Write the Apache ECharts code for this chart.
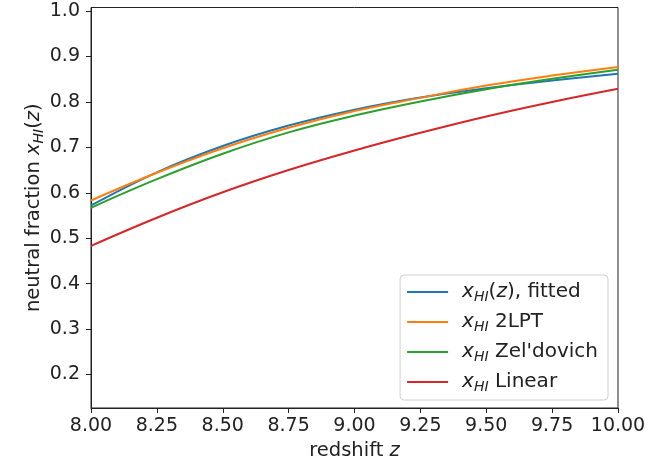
<!DOCTYPE html>
<html>
<head>
<meta charset="utf-8">
<script src="https://cdn.jsdelivr.net/npm/echarts@6/dist/echarts.min.js"></script>
<style>html,body{margin:0;padding:0;background:#fff}#c{width:668px;height:466px}</style>
</head>
<body>
<div id="c"></div>
<script>
var redshift = [8.0, 8.25, 8.5, 8.75, 9.0, 9.25, 9.5, 9.75, 10.0];
var fitted   = [0.572, 0.645, 0.703, 0.748, 0.783, 0.810, 0.830, 0.847, 0.862];
var lpt2     = [0.583, 0.644, 0.698, 0.743, 0.780, 0.809, 0.836, 0.858, 0.877];
var zeldo    = [0.567, 0.630, 0.686, 0.733, 0.770, 0.801, 0.828, 0.851, 0.871];
var linear   = [0.483, 0.545, 0.601, 0.650, 0.693, 0.732, 0.768, 0.800, 0.829];
var xTicks = [8.0, 8.25, 8.5, 8.75, 9.0, 9.25, 9.5, 9.75, 10.0];
var yTicks = [0.2, 0.3, 0.4, 0.5, 0.6, 0.7, 0.8, 0.9, 1.0];
var names = ['fitted', '2LPT', 'Zel', 'Linear'];
var colors = ['#1f77b4', '#ff7f0e', '#2ca02c', '#d62728'];
var seriesVals = [fitted, lpt2, zeldo, linear];

var FONT = 'DejaVu Sans';
var legendText = {
  'fitted': '{i|x}{s|HI}{n|(}{i|z}{n|), fitted}',
  '2LPT': '{i|x}{s|HI}{n| 2LPT}',
  'Zel': "{i|x}{s|HI}{n| Zel'dovich}",
  'Linear': '{i|x}{s|HI}{n| Linear}'
};
function rich(fs, lh) {
  return {
    n: {fontFamily: FONT, fontSize: fs, color: '#222', lineHeight: lh},
    i: {fontFamily: FONT, fontSize: fs, fontStyle: 'italic', color: '#222', lineHeight: lh},
    s: {fontFamily: FONT, fontSize: Math.round(fs * 0.7), fontStyle: 'italic', color: '#222', verticalAlign: 'bottom', lineHeight: lh, padding: [Math.round(fs * 0.5), 0, 0, 0]}
  };
}

var chart = echarts.init(document.getElementById('c'), null, {renderer: 'canvas'});
chart.setOption({
  animation: false,
  backgroundColor: '#fff',
  grid: {left: 91, right: 50, top: 7.5, bottom: 55, show: true, borderColor: '#222', borderWidth: 1, containLabel: false},
  xAxis: {
    type: 'value', min: 8, max: 10,
    name: '{n|redshift }{i|z}', nameLocation: 'middle', nameGap: 33, nameMoveOverlap: false,
    nameTextStyle: {rich: rich(19.5)},
    axisLine: {show: true, onZero: false, lineStyle: {color: '#222', width: 1}},
    axisTick: {show: true, length: 5, lineStyle: {color: '#222'}, customValues: xTicks},
    axisLabel: {fontFamily: FONT, fontSize: 19, color: '#222', margin: 9, customValues: xTicks,
      formatter: function (v) { return v.toFixed(2); }},
    splitLine: {show: false}
  },
  yAxis: {
    type: 'value', min: 0.126, max: 1.008,
    name: '{n|neutral fraction }{i|x}{s|HI}{n|(}{i|z}{n|)}', nameLocation: 'middle', nameGap: 45, nameMoveOverlap: false,
    nameTextStyle: {rich: rich(19.5)},
    axisLine: {show: true, onZero: false, lineStyle: {color: '#222', width: 1}},
    axisTick: {show: true, length: 5, lineStyle: {color: '#222'}, customValues: yTicks},
    axisLabel: {fontFamily: FONT, fontSize: 19, color: '#222', margin: 11, customValues: yTicks,
      formatter: function (v) { return v.toFixed(1); }},
    splitLine: {show: false}
  },
  legend: {
    orient: 'vertical', right: 60, bottom: 66,
    data: names,
    icon: 'rect',
    itemWidth: 41, itemHeight: 2, itemGap: 6,
    backgroundColor: '#fff', borderColor: '#d0d0d0', borderWidth: 1, borderRadius: 4,
    padding: [5, 10, 6, 7],
    formatter: function (n) { return legendText[n]; },
    textStyle: {rich: rich(20, 24), fontSize: 20, lineHeight: 24, fontFamily: FONT, padding: [0, 0, 0, 9]}
  },
  series: names.map(function (n, k) {
    return {
      name: n, type: 'line', showSymbol: false, symbol: 'none', smooth: 0.4,
      lineStyle: {color: colors[k], width: 2}, itemStyle: {color: colors[k]},
      data: redshift.map(function (z, i) { return [z, seriesVals[k][i]]; })
    };
  })
});
</script>
</body>
</html>
